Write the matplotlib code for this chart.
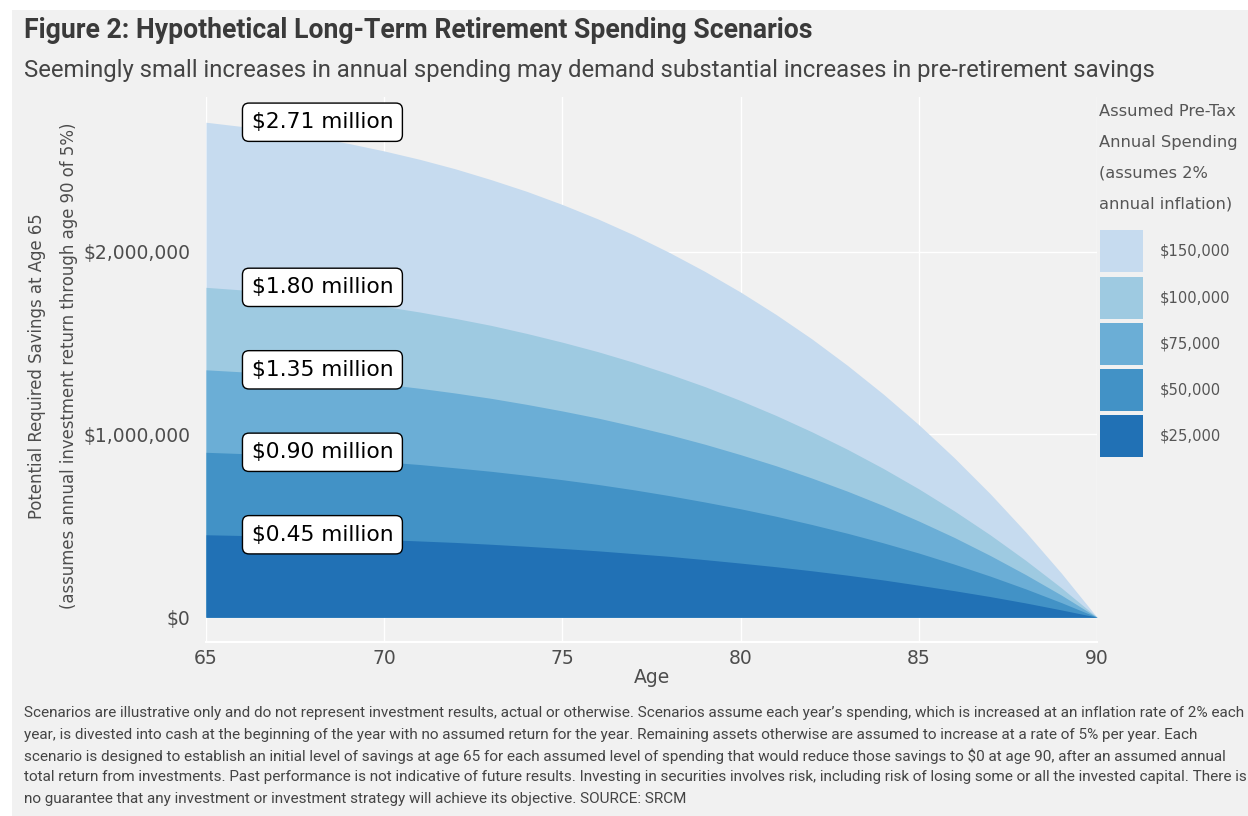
import matplotlib
matplotlib.use("Agg")
import matplotlib.pyplot as plt
from matplotlib.patches import Rectangle
from matplotlib.ticker import FuncFormatter

# ---- data (savings in $ millions) ----
ages = list(range(65, 91))
spend_150k = [2.707, 2.684, 2.658, 2.627, 2.591, 2.550, 2.504, 2.452, 2.393, 2.329,
              2.257, 2.178, 2.091, 1.995, 1.891, 1.778, 1.655, 1.522, 1.377, 1.221,
              1.053, 0.871, 0.676, 0.466, 0.241, 0.0]
spend_100k = [1.804, 1.790, 1.772, 1.751, 1.727, 1.700, 1.669, 1.634, 1.596, 1.552,
              1.504, 1.452, 1.394, 1.330, 1.261, 1.185, 1.103, 1.014, 0.918, 0.814,
              0.702, 0.581, 0.451, 0.311, 0.161, 0.0]
spend_75k = [1.353, 1.342, 1.329, 1.313, 1.296, 1.275, 1.252, 1.226, 1.197, 1.164,
             1.128, 1.089, 1.045, 0.998, 0.946, 0.889, 0.828, 0.761, 0.689, 0.611,
             0.526, 0.436, 0.338, 0.233, 0.121, 0.0]
spend_50k = [0.902, 0.895, 0.886, 0.876, 0.864, 0.850, 0.835, 0.817, 0.798, 0.776,
             0.752, 0.726, 0.697, 0.665, 0.630, 0.593, 0.552, 0.507, 0.459, 0.407,
             0.351, 0.290, 0.225, 0.155, 0.080, 0.0]
spend_25k = [0.451, 0.447, 0.443, 0.438, 0.432, 0.425, 0.417, 0.409, 0.399, 0.388,
             0.376, 0.363, 0.348, 0.333, 0.315, 0.296, 0.276, 0.254, 0.230, 0.204,
             0.175, 0.145, 0.113, 0.078, 0.040, 0.0]

series = [spend_150k, spend_100k, spend_75k, spend_50k, spend_25k]
legend_labels = ["$150,000", "$100,000", "$75,000", "$50,000", "$25,000"]
box_labels = ["$2.71 million", "$1.80 million", "$1.35 million", "$0.90 million", "$0.45 million"]
colors = ["#c6dbef", "#9ecae1", "#6baed6", "#4292c6", "#2171b5"]

title = "Figure 2: Hypothetical Long-Term Retirement Spending Scenarios"
subtitle = "Seemingly small increases in annual spending may demand substantial increases in pre-retirement savings"
legend_title = ["Assumed Pre-Tax", "Annual Spending", "(assumes 2%", "annual inflation)"]
footer = [
    "Scenarios are illustrative only and do not represent investment results, actual or otherwise. Scenarios assume each year\u2019s spending, which is increased at an inflation rate of 2% each",
    "year, is divested into cash at the beginning of the year with no assumed return for the year. Remaining assets otherwise are assumed to increase at a rate of 5% per year. Each",
    "scenario is designed to establish an initial level of savings at age 65 for each assumed level of spending that would reduce those savings to $0 at age 90, after an assumed annual",
    "total return from investments. Past performance is not indicative of future results. Investing in securities involves risk, including risk of losing some or all the invested capital. There is",
    "no guarantee that any investment or investment strategy will achieve its objective. SOURCE: SRCM",
]

W, H = 1248, 816
BG = "#f1f1f1"
narrow = ["Roboto", "DejaVu Sans"]
body = ["DejaVu Sans"]


def fx(px):
    return px / W


def fy(py):
    return 1 - py / H


fig = plt.figure(figsize=(W / 100, H / 100), dpi=100, facecolor="white")
fig.add_artist(Rectangle((fx(12), 0), 1 - fx(12), fy(10), transform=fig.transFigure,
                         facecolor=BG, edgecolor="none", zorder=0))
renderer = fig.canvas.get_renderer()


def fit_width(txt, target_px):
    # scale font so the text spans target_px, like the condensed face in the original
    w = txt.get_window_extent(renderer).width
    txt.set_fontsize(txt.get_fontsize() * target_px / w)
    return txt.get_fontsize()


ax = fig.add_axes([fx(206), fy(642), fx(1097) - fx(206), fy(97) - fy(642)])
ax.set_facecolor(BG)
for i, vals in enumerate(series):
    ax.fill_between(ages, 0, vals, color=colors[i], linewidth=0, zorder=2 + i)

ax.set_xlim(65, 90)
ax.set_ylim(-0.1355, 2.845)
ax.set_xticks([65, 70, 75, 80, 85, 90])
ax.set_yticks([0, 1, 2])
ax.yaxis.set_major_formatter(FuncFormatter(lambda v, p: "${:,.0f}".format(v * 1e6)))
ax.grid(True, color="white", linewidth=1.0, zorder=1)
ax.set_axisbelow(True)
for s in ["top", "left", "right"]:
    ax.spines[s].set_visible(False)
ax.spines["bottom"].set_color("white")
ax.spines["bottom"].set_linewidth(1.5)
ax.tick_params(length=0, labelsize=13.5, labelcolor="#4d4d4d")
ax.tick_params(axis="x", pad=5)
ax.tick_params(axis="y", pad=11)
for t in ax.get_xticklabels() + ax.get_yticklabels():
    t.set_family(body)

ax.set_xlabel("Age", fontsize=13.5, color="#4d4d4d", family=body, labelpad=0)
fig.text(fx(53), fy(366),
         "Potential Required Savings at Age 65\n(assumes annual investment return through age 90 of 5%)",
         rotation=90, ha="center", va="center", fontsize=11.9, color="#4d4d4d",
         family=body, linespacing=2.0)

# value labels at age 65 start
for vals, lab in zip(series, box_labels):
    ax.text(66.28, vals[0], lab, ha="left", va="center", fontsize=15.7, color="black",
            family=body, zorder=10,
            bbox=dict(boxstyle="round,pad=0.42,rounding_size=0.3", fc="white", ec="black", lw=1.0))

# titles
t1 = fig.text(fx(24), fy(31), title, ha="left", va="center", fontsize=20, fontweight="bold",
              color="#3a3a3a", family=narrow)
fit_width(t1, 788)
t2 = fig.text(fx(24), fy(70), subtitle, ha="left", va="center", fontsize=18,
              color="#444444", family=narrow)
fit_width(t2, 1133)

# legend
for i, line in enumerate(legend_title):
    fig.text(fx(1099), fy(111 + 31 * i), line, ha="left", va="center", fontsize=11.7,
             color="#555555", family=body)
key_tops = [230, 277, 323, 369, 415]
for top, c, lab in zip(key_tops, colors, legend_labels):
    fig.add_artist(Rectangle((fx(1100), fy(top + 42)), fx(43), 42 / H, transform=fig.transFigure,
                             facecolor=c, edgecolor="none"))
    fig.text(fx(1160), fy(top + 21), lab, ha="left", va="center", fontsize=10.6,
             color="#555555", family=body)

# footer
foot = []
for i, line in enumerate(footer):
    foot.append(fig.text(fx(24), fy(713 + 21.5 * i), line, ha="left", va="center", fontsize=11,
                         color="#444444", family=narrow))
fs = fit_width(foot[0], 1219)
for t in foot[1:]:
    t.set_fontsize(fs)

fig.savefig("out.png", dpi=100, facecolor="white")
